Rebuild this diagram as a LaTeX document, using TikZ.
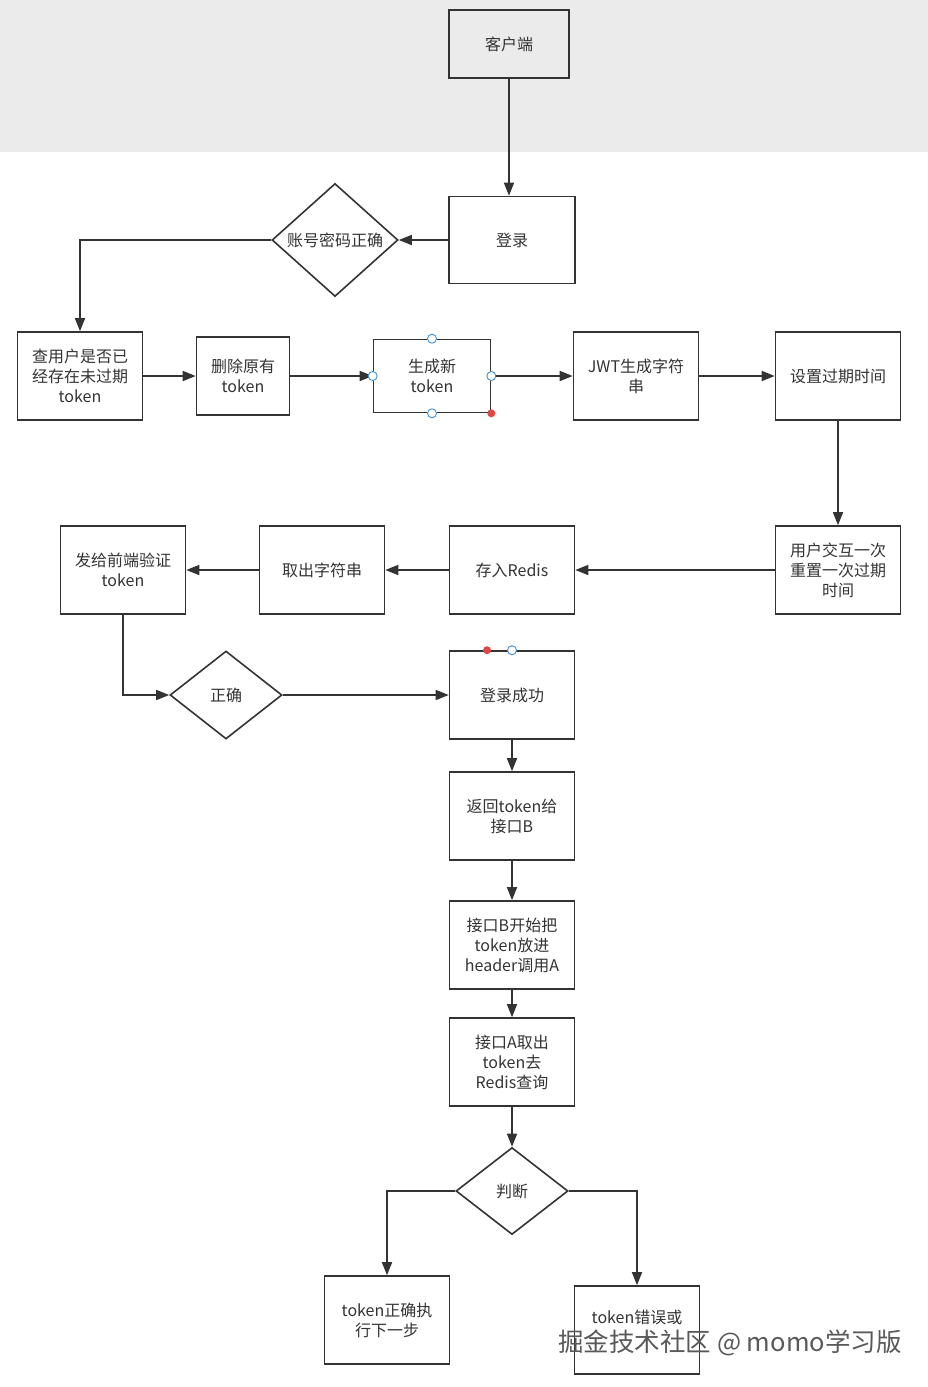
\documentclass[tikz,border=0pt]{standalone}
\usepackage{fontspec}
\setmainfont{Noto Sans CJK SC}
\usepackage{xcolor}
\usetikzlibrary{shapes.geometric,arrows.meta}

\definecolor{linegray}{HTML}{333333}
\definecolor{bandgray}{HTML}{EBEBEB}
\definecolor{handleblue}{HTML}{3C8FD8}
\definecolor{handlered}{HTML}{E04848}

\begin{document}
\begin{tikzpicture}[x=1pt,y=-1pt,
  box/.style={draw=linegray, line width=1.6pt, minimum width=125pt, minimum height=88pt,
    inner sep=2pt, align=center, font=\fontsize{16}{20}\selectfont, text=linegray},
  decision/.style={draw=linegray, line width=1.6pt, diamond, inner sep=0pt, align=center,
    font=\fontsize{16}{20}\selectfont, text=linegray},
  line/.style={draw=linegray, line width=1.6pt, -{Triangle[length=13pt,width=10pt]}},
  handle/.style={draw=handleblue, fill=white, line width=0.9pt, circle, inner sep=0pt, minimum size=9pt},
  dot/.style={fill=handlered, circle, inner sep=0pt, minimum size=8pt}]
  \useasboundingbox (0,0) rectangle (928,1387);
  % top band
  \fill[bandgray] (0,0) rectangle (928,152);

  % first rows
  \node[box, minimum width=120pt, minimum height=68pt] (client) at (509,44) {客户端};
  \node[box, minimum width=126pt, minimum height=87pt] (login) at (512,240) {登录};
  \node[decision, minimum width=126pt, minimum height=113pt] (pwdok) at (335,240) {账号密码正确};
  \node[box] (check) at (80,376) {查用户是否已\\经存在未过期\\token};
  \node[box, minimum width=93pt, minimum height=78pt] (delete) at (243,376) {删除原有\\token};
  \node[box, minimum width=117pt, minimum height=73pt] (newtok) at (432,376) {生成新\\token};
  \node[box] (jwt) at (636,376) {JWT生成字符\\串};
  \node[box] (expire) at (838,376) {设置过期时间};

  % second row
  \node[box] (reset) at (838,570) {用户交互一次\\重置一次过期\\时间};
  \node[box] (store) at (512,570) {存入Redis};
  \node[box] (fetch) at (322,570) {取出字符串};
  \node[box] (send) at (123,570) {发给前端验证\\token};
  \node[decision, minimum width=112pt, minimum height=88pt] (right) at (226,695) {正确};
  \node[box] (success) at (512,695) {登录成功};

  % column
  \node[box] (giveb) at (512,816) {返回token给\\接口B};
  \node[box] (callA) at (512,945) {接口B开始把\\token放进\\header调用A};
  \node[box] (query) at (512,1062) {接口A取出\\token去\\Redis查询};
  \node[decision, minimum width=112pt, minimum height=87pt] (judge) at (512,1191) {判断};
  \node[box] (goon) at (387,1320) {token正确执\\行下一步};
  \node[box] (fail) at (637,1330) {token错误或\\\strut};

  % connectors
  \draw[line] (client.south) -- (client.south |- login.north);
  \draw[line] (login) -- (pwdok);
  \draw[line] (pwdok.west) -| (check.north);
  \draw[line] (check) -- (delete);
  \draw[line] (delete) -- (newtok);
  \draw[line] (newtok) -- (jwt);
  \draw[line] (jwt) -- (expire);
  \draw[line] (expire) -- (reset);
  \draw[line] (reset) -- (store);
  \draw[line] (store) -- (fetch);
  \draw[line] (fetch) -- (send);
  \draw[line] (send.south) |- (right.west);
  \draw[line] (right) -- (success);
  \draw[line] (success) -- (giveb);
  \draw[line] (giveb) -- (callA);
  \draw[line] (callA) -- (query);
  \draw[line] (query) -- (judge);
  \draw[line] (judge.west) -| (goon.north);
  \draw[line] (judge.east) -| (fail.north);

  % selection handles
  \node[handle] (hn) at (newtok.north) {};
  \node[handle] (hs) at (newtok.south) {};
  \node[handle] (hw) at (newtok.west) {};
  \node[handle] (he) at (newtok.east) {};
  \node[dot] (hd) at (newtok.south east) {};
  \node[handle] (hsn) at (success.north) {};
  \node[dot] (hsd) at ([xshift=-25pt]success.north) {};

  % watermark
  \node[text=black!65, font=\fontsize{25.5}{28}\selectfont] (mark) at (730,1343) {掘金技术社区 @ momo学习版};
\end{tikzpicture}
\end{document}
